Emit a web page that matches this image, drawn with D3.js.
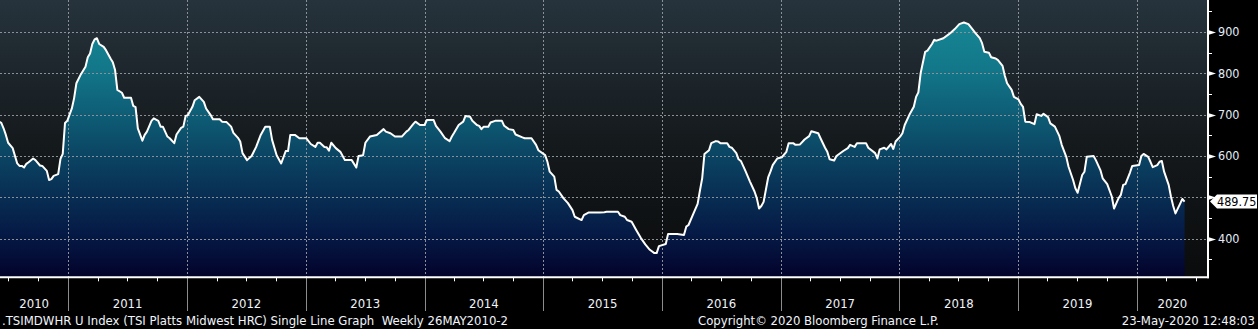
<!DOCTYPE html>
<html>
<head>
<meta charset="utf-8">
<script src="https://cdn.jsdelivr.net/npm/d3@7"></script>
<style>
  html, body { margin: 0; padding: 0; background: #000; }
  svg { display: block; }
  text { font-family: "DejaVu Sans Condensed", "DejaVu Sans", sans-serif; }
</style>
</head>
<body>
<svg id="chart" width="1258" height="329"></svg>
<script>
// weekly series, week number counted from 26 May 2010
const startDate = new Date(2010, 4, 26);
const weekNums = [
  1, 2, 3, 4, 5, 7, 9, 10, 11, 12, 13, 14, 16, 17, 19, 20, 22, 23, 24, 25, 27, 28, 29, 30,
  31, 33, 34, 35, 37, 39, 40, 41, 42, 43, 44, 45, 47, 48, 50, 51, 52, 53, 55, 56, 59, 60,
  61, 62, 64, 65, 66, 68, 69, 71, 72, 73, 75, 76, 78, 79, 81, 82, 83, 84, 86, 87, 89, 90,
  91, 92, 94, 95, 98, 99, 101, 103, 104, 106, 107, 108, 110, 112, 114, 116, 118, 120, 121,
  123, 125, 127, 128, 129, 131, 133, 136, 138, 140, 141, 142, 144, 145, 146, 147, 149, 151,
  153, 156, 158, 159, 161, 162, 164, 167, 170, 171, 173, 175, 178, 180, 181, 183, 184, 186,
  188, 189, 192, 193, 195, 197, 199, 200, 201, 203, 205, 206, 208, 209, 211, 212, 213, 214,
  216, 217, 219, 222, 223, 225, 227, 228, 231, 232, 235, 237, 238, 241, 242, 243, 245, 246,
  247, 249, 251, 253, 254, 257, 258, 260, 265, 267, 268, 273, 274, 276, 277, 279, 281, 283,
  285, 287, 289, 290, 291, 294, 295, 299, 302, 303, 304, 306, 308, 309, 310, 311, 313, 314,
  316, 317, 318, 321, 322, 323, 325, 326, 327, 329, 331, 333, 334, 335, 336, 337, 339, 340,
  341, 343, 345, 347, 348, 350, 351, 353, 355, 357, 358, 361, 362, 364, 365, 366, 368, 369,
  372, 374, 375, 377, 378, 382, 383, 386, 387, 388, 390, 391, 393, 394, 395, 397, 398, 399,
  401, 403, 404, 405, 406, 408, 409, 411, 412, 413, 416, 418, 419, 421, 423, 425, 427, 429,
  430, 432, 433, 434, 436, 437, 439, 440, 442, 443, 444, 446, 447, 449, 450, 451, 452, 454,
  456, 457, 459, 460, 462, 463, 465, 467, 468, 470, 471, 473, 474, 475, 477, 478, 479, 482,
  483, 485, 486, 488, 490, 491, 493, 494, 495, 496, 498, 499, 502, 503, 504, 506, 507, 508,
  510, 511, 512, 513, 515, 516, 517, 518, 520, 521, 522
];
const prices = [
  683, 680, 667, 651, 632, 619, 582, 576, 576, 572, 581, 585, 594, 590, 577, 576, 564, 542, 544, 552, 556, 593, 605, 680,
  685, 715, 740, 776, 798, 816, 839, 848, 871, 882, 885, 871, 864, 856, 836, 827, 808, 760, 753, 741, 741, 721,
  718, 667, 637, 651, 659, 685, 691, 685, 671, 671, 647, 643, 631, 652, 668, 671, 697, 699, 719, 735, 743, 737,
  731, 715, 699, 689, 689, 683, 682, 671, 656, 644, 635, 607, 590, 600, 622, 651, 671, 671, 639,
  602, 582, 612, 612, 651, 651, 643, 643, 629, 622, 632, 632, 622, 621, 613, 632, 619, 610,
  590, 590, 572, 600, 602, 632, 647, 651, 665, 659, 655, 647, 647, 659, 663, 677, 683, 675,
  675, 687, 687, 673, 659, 643, 636, 647, 656, 675, 683, 697, 695, 685, 675, 673, 665, 671,
  671, 681, 685, 685, 673, 665, 663, 652, 645, 643, 643, 627, 614, 602, 586, 562, 550, 518,
  514, 498, 486, 469, 453, 445, 457, 463, 463, 464, 465, 465, 457, 453, 445, 441, 421, 402,
  386, 373, 365, 365, 382, 387, 411, 411, 409, 429, 433, 459, 484, 516, 546, 605, 614, 631,
  636, 635, 631, 631, 622, 620, 607, 592, 588, 564, 538, 514, 498, 473, 479, 489, 548, 562,
  578, 594, 597, 610, 631, 631, 627, 628, 640, 648, 660, 655, 643, 620, 610, 592, 589, 600,
  612, 619, 627, 622, 631, 631, 620, 607, 594, 616, 620, 616, 629, 617, 635, 647, 655, 675,
  699, 719, 743, 754, 800, 852, 855, 871, 881, 879, 885, 893, 897, 907, 919, 923, 919, 905,
  898, 885, 873, 852, 850, 839, 836, 832, 818, 794, 776, 760, 743, 737, 726, 719, 683, 682,
  677, 701, 697, 702, 694, 679, 671, 648, 627, 598, 574, 542, 522, 511, 554, 562, 598, 600,
  590, 566, 546, 532, 502, 473, 498, 506, 530, 532, 560, 576, 578, 600, 605, 598, 586, 573,
  578, 586, 588, 562, 530, 502, 479, 461, 484, 496, 489.75
];
const yTicks = [400, 500, 600, 700, 800, 900];
const yMinorTicks = [350, 450, 550, 650, 750, 850, 950];
const footerLeft = ".TSIMDWHR U Index (TSI Platts Midwest HRC) Single Line Graph  Weekly 26MAY2010-2";
const footerMid = "Copyright\u00A9 2020 Bloomberg Finance L.P.";
const footerRight = "23-May-2020 12:48:03";

const data = weekNums.map((w, i) => ({
  date: d3.timeDay.offset(startDate, w * 7),
  value: prices[i],
}));

const plotW = 1208;
const plotH = 277.3;

const x = d3
  .scaleTime()
  .domain([new Date(2010, 5, 5), new Date(2020, 7, 7)])
  .range([0, plotW]);

const y = d3.scaleLinear().domain([306.5, 977.4]).range([plotH, 0]);

const svg = d3.select("#chart");

const defs = svg.append("defs");

const bg = defs
  .append("linearGradient")
  .attr("id", "bgGrad")
  .attr("gradientUnits", "userSpaceOnUse")
  .attr("x1", 0).attr("y1", 0).attr("x2", 0).attr("y2", plotH);
bg.append("stop").attr("offset", 0).attr("stop-color", "#26333c");
bg.append("stop").attr("offset", 0.5).attr("stop-color", "#151a1d");
bg.append("stop").attr("offset", 1).attr("stop-color", "#0a0b0c");

const areaGrad = defs
  .append("linearGradient")
  .attr("id", "areaGrad")
  .attr("gradientUnits", "userSpaceOnUse")
  .attr("x1", 0).attr("y1", 0).attr("x2", 0).attr("y2", plotH);
areaGrad.append("stop").attr("offset", 0).attr("stop-color", "#188d99");
areaGrad.append("stop").attr("offset", 0.25).attr("stop-color", "#127789");
areaGrad.append("stop").attr("offset", 0.45).attr("stop-color", "#0d5771");
areaGrad.append("stop").attr("offset", 0.65).attr("stop-color", "#093659");
areaGrad.append("stop").attr("offset", 0.85).attr("stop-color", "#051945");
areaGrad.append("stop").attr("offset", 1).attr("stop-color", "#03032b");

defs
  .append("clipPath")
  .attr("id", "plotClip")
  .append("rect")
  .attr("width", plotW)
  .attr("height", plotH);

svg.append("rect").attr("width", 1258).attr("height", 329).attr("fill", "#000");
svg.append("rect").attr("width", plotW).attr("height", plotH).attr("fill", "url(#bgGrad)");

const plot = svg.append("g").attr("clip-path", "url(#plotClip)");

plot
  .append("path")
  .datum(data)
  .attr("fill", "url(#areaGrad)")
  .attr(
    "d",
    d3.area().x((d) => x(d.date)).y0(plotH).y1((d) => y(d.value))
  );

// dotted grid
const years = d3.timeYear.range(new Date(2011, 0, 1), new Date(2020, 1, 1));
plot
  .selectAll(".vgrid")
  .data(years)
  .enter()
  .append("line")
  .attr("x1", (d) => Math.round(x(d)) + 0.5)
  .attr("x2", (d) => Math.round(x(d)) + 0.5)
  .attr("y1", 0)
  .attr("y2", plotH)
  .attr("stroke", "#8a9096")
  .attr("stroke-dasharray", "2,2");

plot
  .selectAll(".hgrid")
  .data(yTicks)
  .enter()
  .append("line")
  .attr("x1", 0)
  .attr("x2", plotW)
  .attr("y1", (d) => Math.round(y(d)) + 0.5)
  .attr("y2", (d) => Math.round(y(d)) + 0.5)
  .attr("stroke", "#8a9096")
  .attr("stroke-dasharray", "2,2");

plot
  .append("path")
  .datum(data)
  .attr("fill", "none")
  .attr("stroke", "#fff")
  .attr("stroke-width", 2)
  .attr("stroke-linejoin", "round")
  .attr("d", d3.line().x((d) => x(d.date)).y((d) => y(d.value)));

// bottom axis
const quarters = d3.timeMonth.every(3).range(x.domain()[0], x.domain()[1]);
svg
  .selectAll(".qtick")
  .data(quarters)
  .enter()
  .append("line")
  .attr("x1", (d) => Math.round(x(d)) + 0.5)
  .attr("x2", (d) => Math.round(x(d)) + 0.5)
  .attr("y1", plotH)
  .attr("y2", plotH + 4)
  .attr("stroke", "#fff");

svg
  .selectAll(".ysep")
  .data(years)
  .enter()
  .append("line")
  .attr("x1", (d) => Math.round(x(d)) + 0.5)
  .attr("x2", (d) => Math.round(x(d)) + 0.5)
  .attr("y1", plotH)
  .attr("y2", 311)
  .attr("stroke", "#8c8c8c");

const yearSpans = d3.range(2010, 2021).map((yr) => {
  const a = Math.max(0, x(new Date(yr, 0, 1)));
  const b = Math.min(plotW, x(new Date(yr + 1, 0, 1)));
  return { label: String(yr), cx: (a + b) / 2 };
});
svg
  .selectAll(".ylabel")
  .data(yearSpans)
  .enter()
  .append("text")
  .attr("x", (d) => d.cx)
  .attr("y", 308)
  .attr("text-anchor", "middle")
  .attr("fill", "#f0f4fa")
  .attr("font-size", 13)
  .text((d) => d.label);

svg.append("line")
  .attr("x1", 0).attr("x2", plotW + 1)
  .attr("y1", plotH).attr("y2", plotH)
  .attr("stroke", "#fff").attr("stroke-width", 2);

// right axis
svg.append("line")
  .attr("x1", plotW).attr("x2", plotW)
  .attr("y1", 0).attr("y2", plotH + 1)
  .attr("stroke", "#fff").attr("stroke-width", 2);

svg
  .selectAll(".minor")
  .data(yMinorTicks)
  .enter()
  .append("line")
  .attr("x1", plotW)
  .attr("x2", plotW + 4)
  .attr("y1", (d) => Math.round(y(d)) + 0.5)
  .attr("y2", (d) => Math.round(y(d)) + 0.5)
  .attr("stroke", "#fff");

svg
  .selectAll(".arrow")
  .data(yTicks)
  .enter()
  .append("path")
  .attr("d", (d) => {
    const ty = Math.round(y(d)) + 0.5;
    return `M${plotW},${ty - 2.5}L${plotW + 8},${ty}L${plotW},${ty + 2.5}Z`;
  })
  .attr("fill", "#fff");

const last = data[data.length - 1];
const ly = y(last.value);

// the last-value box hides any tick label it sits on
svg
  .selectAll(".ytext")
  .data(yTicks.filter((t) => Math.abs(y(t) - ly) > 13))
  .enter()
  .append("text")
  .attr("x", plotW + 10)
  .attr("y", (d) => y(d) + 4.5)
  .attr("fill", "#e4ecf8")
  .attr("font-size", 12.5)
  .text((d) => d);

// last value marker
svg.append("path")
  .attr("d", `M${plotW + 2},${ly}L${plotW + 9},${ly - 7}L1257,${ly - 7}L1257,${ly + 7}L${plotW + 9},${ly + 7}Z`)
  .attr("fill", "#fff");
svg.append("text")
  .attr("x", plotW + 9)
  .attr("y", ly + 4.5)
  .attr("fill", "#000")
  .attr("font-size", 12.5)
  .text(d3.format(".2f")(last.value));

// footer
svg.append("text").attr("x", 2).attr("y", 325)
  .attr("fill", "#f0f4fa").attr("font-size", 13)
  .style("white-space", "pre")
  .text(footerLeft);
svg.append("text").attr("x", 698).attr("y", 325)
  .attr("fill", "#f0f4fa").attr("font-size", 13)
  .text(footerMid);
svg.append("text").attr("x", 1255).attr("y", 325)
  .attr("text-anchor", "end")
  .attr("fill", "#f0f4fa").attr("font-size", 13)
  .text(footerRight);
</script>
</body>
</html>
